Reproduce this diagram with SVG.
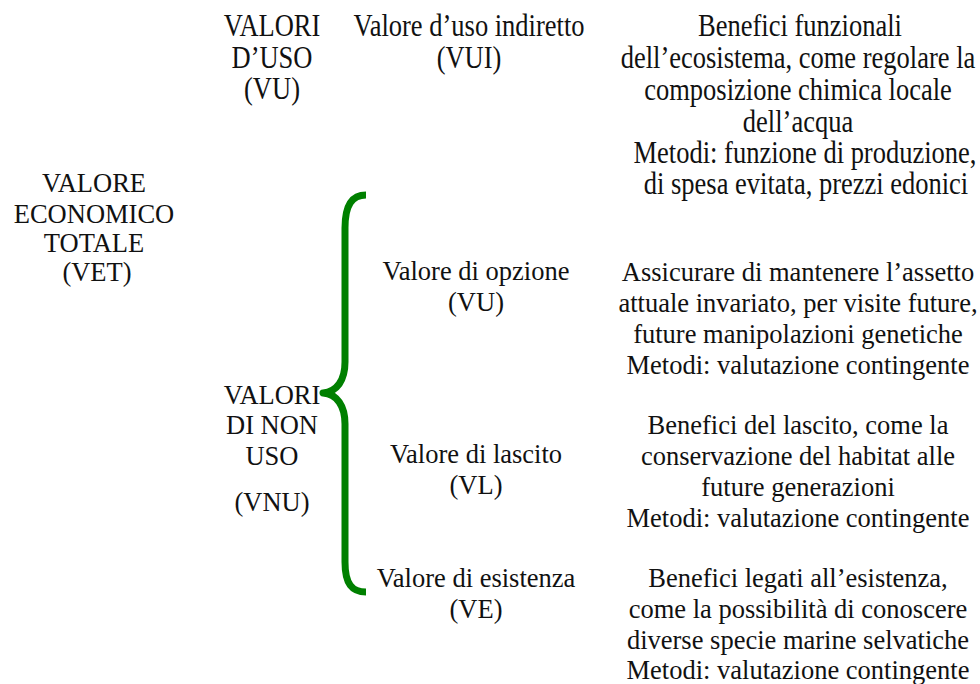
<svg xmlns="http://www.w3.org/2000/svg" width="980" height="684" viewBox="0 0 980 684" font-family="'Liberation Serif', Tinos, 'Times New Roman', serif">
<style>
text{font-family:'Liberation Serif', Tinos, 'Times New Roman', serif;font-size:26.5px;fill:#111;text-anchor:middle}
.brace{fill:none;stroke:#008000;stroke-width:7;stroke-linecap:butt;stroke-linejoin:round}
</style>
<rect width="980" height="684" fill="#fff"/>
<g id="vet">
<text x="94" y="192">VALORE</text>
<text x="94" y="223">ECONOMICO</text>
<text x="94" y="252">TOTALE</text>
<text x="97" y="281">(VET)</text>
</g>
<g id="vu">
<text transform="translate(272,36) scale(1,1.2)">VALORI</text>
<text transform="translate(272,68) scale(1,1.2)">D’USO</text>
<text transform="translate(272,99) scale(1,1.2)">(VU)</text>
</g>
<g id="vui">
<text transform="translate(469,36) scale(1,1.2)">Valore d’uso indiretto</text>
<text transform="translate(469,68) scale(1,1.2)">(VUI)</text>
</g>
<g id="vui-desc">
<text transform="translate(800,36) scale(1,1.2)">Benefici funzionali</text>
<text transform="translate(798,68) scale(1,1.2)">dell’ecosistema, come regolare la</text>
<text transform="translate(798,100) scale(1,1.2)">composizione chimica locale</text>
<text transform="translate(798,132) scale(1,1.2)">dell’acqua</text>
<text transform="translate(805,163) scale(1,1.2)">Metodi: funzione di produzione,</text>
<text transform="translate(806,194) scale(1,1.2)">di spesa evitata, prezzi edonici</text>
</g>
<g id="vo">
<text x="476" y="280">Valore di opzione</text>
<text x="476" y="311">(VU)</text>
</g>
<g id="vo-desc">
<text x="798" y="281">Assicurare di mantenere l’assetto</text>
<text x="798" y="312">attuale invariato, per visite future,</text>
<text x="798" y="343">future manipolazioni genetiche</text>
<text x="798" y="374">Metodi: valutazione contingente</text>
</g>
<g id="vnu">
<text x="272" y="404">VALORI</text>
<text x="272" y="434">DI NON</text>
<text x="272" y="465">USO</text>
<text x="272" y="511">(VNU)</text>
</g>
<g id="vl">
<text x="476" y="463">Valore di lascito</text>
<text x="476" y="494">(VL)</text>
</g>
<g id="vl-desc">
<text x="798" y="434">Benefici del lascito, come la</text>
<text x="798" y="465">conservazione del habitat alle</text>
<text x="798" y="496">future generazioni</text>
<text x="798" y="527">Metodi: valutazione contingente</text>
</g>
<g id="ve">
<text x="476" y="587">Valore di esistenza</text>
<text x="476" y="618">(VE)</text>
</g>
<g id="ve-desc">
<text x="798" y="587">Benefici legati all’esistenza,</text>
<text x="798" y="618">come la possibilità di conoscere</text>
<text x="798" y="649">diverse specie marine selvatiche</text>
<text x="798" y="679">Metodi: valutazione contingente</text>
</g>
<g id="connectors">
<path class="brace" d="M366,195 C352,195 345,205 345,228 L345,362 C345,380 337,392 323,393 C337,394 345,406 345,424 L345,562 C345,584 352,592 366,592"/>
</g>
</svg>
